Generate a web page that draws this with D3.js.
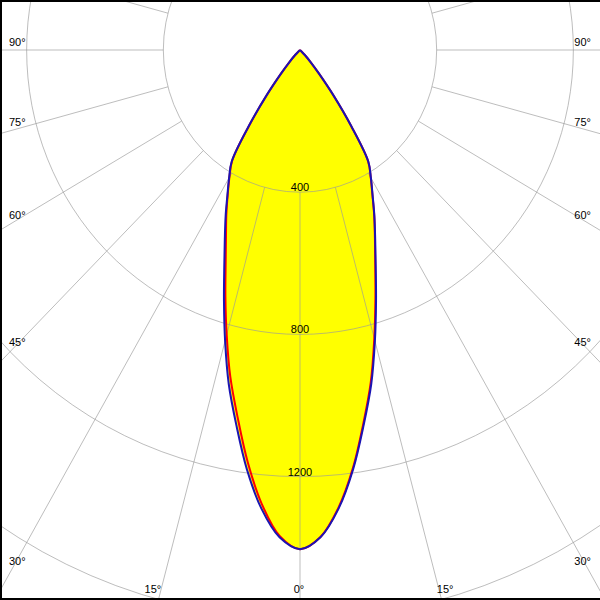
<!DOCTYPE html>
<html>
<head>
<meta charset="utf-8">
<script src="https://cdn.jsdelivr.net/npm/d3@7"></script>
<style>
  html, body { margin: 0; padding: 0; background: #fff; }
  svg { display: block; }
  text { font-family: "Liberation Sans", Arial, sans-serif; font-size: 11px; fill: #000; }
</style>
</head>
<body>
<div id="chart"></div>
<script>
// ---- data (luminous intensity, cd) ----
const gammaAngles = [0, 2.5, 5, 7.5, 10, 12.5, 15, 17.5, 20, 22.5, 25, 27.5, 30, 32.5, 35, 37.5, 40, 42.5, 45, 47.5, 50, 55, 60, 65, 70, 75, 80, 85, 90];
// C90 / C270 planes (blue), same both sides
const intensityC90 = [1404, 1372, 1295, 1190, 1072, 963, 847, 740, 648, 575, 515, 460, 415, 372, 262, 160, 85, 45, 20, 5, 0, 0, 0, 0, 0, 0, 0, 0, 0];
// C180 plane (red, left half)
const intensityC180 = [1404, 1368, 1282, 1170, 1050, 942, 829, 726, 636, 566, 510, 458, 413, 370, 260, 158, 84, 44, 20, 5, 0, 0, 0, 0, 0, 0, 0, 0, 0];
// C0 plane (red, right half)
const intensityC0 = [1404, 1371, 1292, 1186, 1067, 957, 840, 734, 644, 573, 514, 459, 414, 371, 261, 159, 85, 45, 20, 5, 0, 0, 0, 0, 0, 0, 0, 0, 0];
const ringValues = [400, 800, 1200, 1600];
const ringLabels = ["400", "800", "1200"];
const spokeAngles = [0, 15, 30, 45, 60, 75, 90, 105, 120, 135, 150, 165, 180];
const angleLabels = [0, 15, 30, 45, 60, 75, 90];

const W = 600, H = 600;
const svg = d3.select("#chart").append("svg").attr("width", W).attr("height", H);

// scales (cd -> px); horizontal and vertical scaling differ slightly as in the reference
const x = d3.scaleLinear().domain([-878, 878]).range([0, W]);
const y = d3.scaleLinear().domain([0, 1547]).range([50, H]);
const rad = d => d * Math.PI / 180;
const pt = (g, I, side) => [x(side * I * Math.sin(rad(g))), y(I * Math.cos(rad(g)))];

function curvePoints(left, right) {
  const pts = [];
  for (let i = gammaAngles.length - 1; i >= 0; i--) pts.push(pt(gammaAngles[i], left[i], -1));
  for (let i = 1; i < gammaAngles.length; i++) pts.push(pt(gammaAngles[i], right[i], 1));
  return pts;
}
const lineGen = d3.line().curve(d3.curveCatmullRomClosed.alpha(0.5));

const ptsBlue = curvePoints(intensityC90, intensityC90);
const ptsRed = curvePoints(intensityC180, intensityC0);

// fill
svg.append("path").attr("d", lineGen(ptsBlue)).attr("fill", "#ffff00").attr("stroke", "none");

// grid
const grid = svg.append("g").attr("fill", "none").attr("stroke", "#9a9a9a").attr("stroke-opacity", 0.65).attr("stroke-width", 1);
ringValues.forEach(v => {
  grid.append("ellipse")
    .attr("cx", x(0)).attr("cy", y(0))
    .attr("rx", x(v) - x(0)).attr("ry", y(v) - y(0));
});
spokeAngles.forEach(a => {
  [-1, 1].forEach(side => {
    if ((a === 0 || a === 180) && side === 1) return;
    const p0 = pt(a, ringValues[0], side), p1 = pt(a, 4000, side);
    grid.append("line").attr("x1", p0[0]).attr("y1", p0[1]).attr("x2", p1[0]).attr("y2", p1[1]);
  });
});

// outlines
svg.append("path").attr("d", lineGen(ptsRed)).attr("fill", "none").attr("stroke", "#ff0000").attr("stroke-width", 2);
svg.append("path").attr("d", lineGen(ptsBlue)).attr("fill", "none").attr("stroke", "#1a14b4").attr("stroke-width", 2);

// ring labels
ringLabels.forEach(l => {
  svg.append("text").attr("x", x(0)).attr("y", y(+l) - 1).attr("text-anchor", "middle").text(l);
});

// angle labels
const sx = x(1) - x(0), sy = y(1) - y(0);
angleLabels.forEach(a => {
  const s = Math.sin(rad(a)) * sx, c = Math.cos(rad(a)) * sy;
  if (a === 0) {
    svg.append("text").attr("x", x(0) - 1).attr("y", 593).attr("text-anchor", "middle").text(a + "°");
    return;
  }
  const tSide = (x(0) - 12) / s;
  const ySide = y(0) + tSide * c;
  if (ySide <= 589) {
    svg.append("text").attr("x", 9).attr("y", ySide - 4).attr("text-anchor", "start").text(a + "°");
    svg.append("text").attr("x", W - 9).attr("y", ySide - 4).attr("text-anchor", "end").text(a + "°");
  } else {
    const tB = (589 - y(0)) / c;
    const dx = tB * s;
    svg.append("text").attr("x", x(0) - dx).attr("y", 593).attr("text-anchor", "end").text(a + "°");
    svg.append("text").attr("x", x(0) + dx - 2).attr("y", 593).attr("text-anchor", "start").text(a + "°");
  }
});

// frame
const frame = svg.append("g").attr("fill", "#000");
frame.append("rect").attr("x", 0).attr("y", 0).attr("width", W).attr("height", 2);
frame.append("rect").attr("x", 0).attr("y", 0).attr("width", 2).attr("height", H);
frame.append("rect").attr("x", 0).attr("y", H - 2).attr("width", W).attr("height", 2);
</script>
</body>
</html>
